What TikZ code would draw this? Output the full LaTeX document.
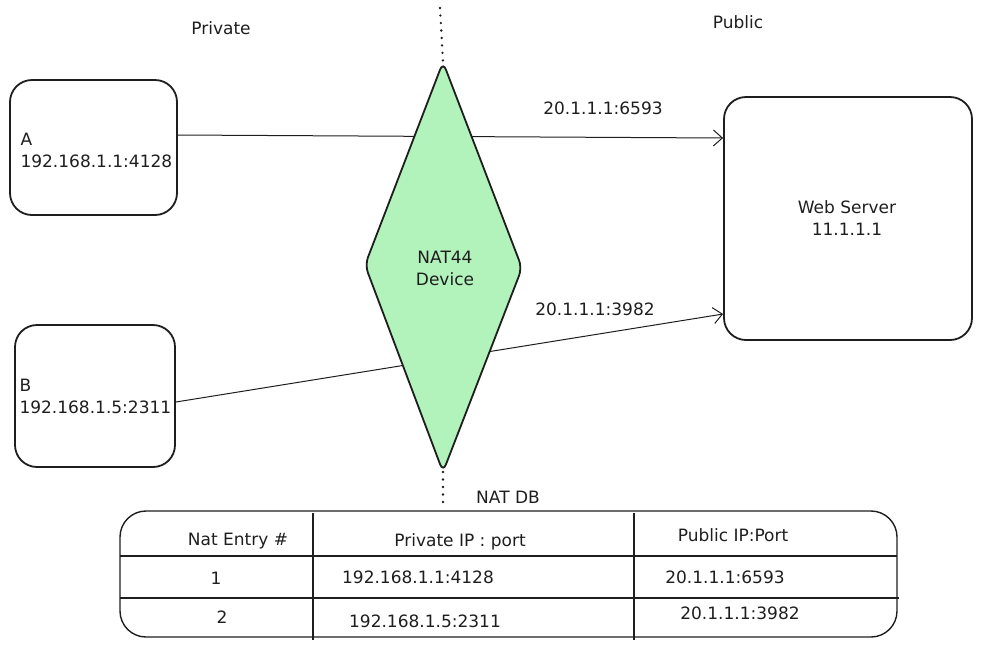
\documentclass[tikz,border=0pt]{standalone}
\usepackage{fontspec}
\setmainfont{DejaVu Sans}
\usetikzlibrary{arrows.meta}
\definecolor{natgreen}{HTML}{B2F2BB}
\definecolor{ink}{HTML}{1E1E1E}
\begin{document}
\begin{tikzpicture}[x=1pt,y=-1pt,
  every node/.style={font=\fontsize{17}{22}\selectfont, text=ink},
  hostbox/.style={draw=ink, line width=1.8pt, rounded corners=22pt, inner sep=0pt},
  conn/.style={draw=ink, line width=1pt, -{Straight Barb[length=9pt,width=16pt,line width=1pt]}},
  dotline/.style={draw=ink, line width=2.6pt, line cap=round, dash pattern=on 0pt off 7.5pt},
  gridline/.style={draw=ink, line width=1.1pt}
]
\useasboundingbox (0,0) rectangle (981,649);

% hosts
\node[hostbox, minimum width=167pt, minimum height=135pt] (A) at (93.5,147.5) {};
\node[anchor=west, align=left] (At) at (17,150) {A\\192.168.1.1:4128};
\node[hostbox, minimum width=160pt, minimum height=142pt] (B) at (95,396) {};
\node[anchor=west, align=left] (Bt) at (16,396) {B\\192.168.1.5:2311};
\node[hostbox, minimum width=248pt, minimum height=243pt] (S) at (848,218.5) {};
\node[align=center] (St) at (847,218) {Web Server\\11.1.1.1};

% zone labels
\node (priv) at (221,28) {Private};
\node (pub) at (738,22) {Public};

% connectors (behind the device)
\draw[conn] ([yshift=12.5pt]A.east) -- ([yshift=80.5pt]S.west);
\draw[conn] ([yshift=-6pt]B.east) -- ([yshift=-95.5pt]S.west);
\node (l1) at (603,108) {20.1.1.1:6593};
\node (l2) at (595,309) {20.1.1.1:3982};

% NAT device
\coordinate (dT) at (443,62);
\coordinate (dR) at (522,268);
\coordinate (dB) at (443,472);
\coordinate (dL) at (365,265);
\coordinate (dotTop) at (440,8);
\coordinate (dotBot) at (443,505);
\draw[dotline] (dotTop) -- (dT);
\draw[dotline] (dB) -- (dotBot);
\filldraw[fill=natgreen, draw=ink, line width=1.8pt, rounded corners=8pt]
  (dT) -- (dR) -- (dB) -- (dL) -- cycle;
\node[align=center] (dev) at (445,268) {NAT44\\Device};

% NAT DB table
\node (db) at (508,497) {NAT DB};
\draw[gridline, line width=1.4pt, rounded corners=26pt] (120,511) rectangle (897,637);
\coordinate (c1t) at (313,513); \coordinate (c1b) at (313,640);
\coordinate (c2t) at (634,513); \coordinate (c2b) at (634,640);
\coordinate (r1l) at (120,556); \coordinate (r1r) at (897,556);
\coordinate (r2l) at (120,598); \coordinate (r2r) at (899,598);
\draw[gridline] (c1t) -- (c1b);
\draw[gridline] (c2t) -- (c2b);
\draw[gridline] (r1l) -- (r1r);
\draw[gridline] (r2l) -- (r2r);

\node (h1) at (238,541) {Nat Entry \#};
\node (h2) at (460,542) {Private IP : port};
\node (h3) at (733,535) {Public IP:Port};
\node (a1) at (216,578) {1};
\node (a2) at (418,577) {192.168.1.1:4128};
\node (a3) at (725,577) {20.1.1.1:6593};
\node (b1) at (222,617) {2};
\node (b2) at (425,621) {192.168.1.5:2311};
\node (b3) at (740,613) {20.1.1.1:3982};
\end{tikzpicture}
\end{document}
